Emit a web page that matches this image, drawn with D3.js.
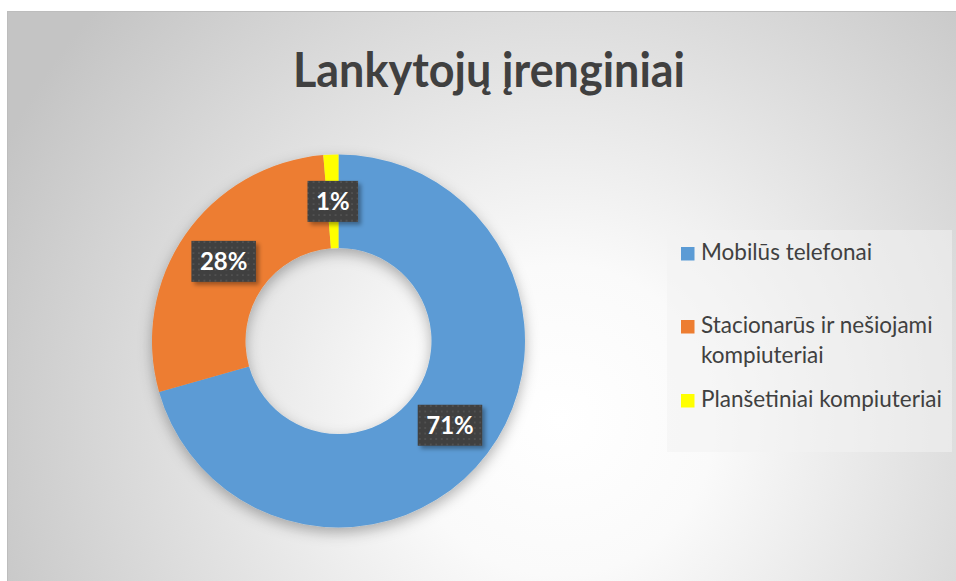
<!DOCTYPE html>
<html>
<head>
<meta charset="utf-8">
<script src="https://cdn.jsdelivr.net/npm/d3@7"></script>
<style>
  html, body { margin: 0; padding: 0; background: #fff; }
  svg { display: block; }
</style>
</head>
<body>
<div id="chart"></div>
<script>
'use strict';
// data
var categories = ['Mobilūs telefonai', 'Stacionarūs ir nešiojami kompiuteriai', 'Planšetiniai kompiuteriai'];
var legendLines = [['Mobilūs telefonai'], ['Stacionarūs ir nešiojami', 'kompiuteriai'], ['Planšetiniai kompiuteriai']];
var shares = [70.6, 28.1, 1.3];
var colors = ['#5B9BD5', '#ED7D31', '#FFFF00'];
var title = 'Lankytojų įrenginiai';

var width = 956, height = 581;
var cx = 338.5, cy = 341, outerR = 186.5, innerR = 93;

var svg = d3.select('#chart').append('svg')
    .attr('width', width)
    .attr('height', height);

var defs = svg.append('defs');

var bg = defs.append('radialGradient')
    .attr('id', 'bg')
    .attr('gradientUnits', 'userSpaceOnUse')
    .attr('cx', 560).attr('cy', 420).attr('r', 620);
bg.append('stop').attr('offset', '0%').attr('stop-color', '#ffffff');
bg.append('stop').attr('offset', '25%').attr('stop-color', '#fafafa');
bg.append('stop').attr('offset', '100%').attr('stop-color', '#c4c4c4');

var shadow = defs.append('filter').attr('id', 'ringShadow')
    .attr('x', '-20%').attr('y', '-20%').attr('width', '140%').attr('height', '140%');
shadow.append('feDropShadow')
    .attr('dx', 0).attr('dy', 5).attr('stdDeviation', 7)
    .attr('flood-color', '#000').attr('flood-opacity', 0.3);

var boxShadow = defs.append('filter').attr('id', 'boxShadow')
    .attr('x', '-20%').attr('y', '-20%').attr('width', '150%').attr('height', '150%');
boxShadow.append('feDropShadow')
    .attr('dx', 3).attr('dy', 3).attr('stdDeviation', 2)
    .attr('flood-color', '#000').attr('flood-opacity', 0.35);

var dots = defs.append('pattern').attr('id', 'dots')
    .attr('patternUnits', 'userSpaceOnUse')
    .attr('width', 5.5).attr('height', 5.5);
dots.append('rect').attr('width', 5.5).attr('height', 5.5).attr('fill', '#404040');
dots.append('circle').attr('cx', 2.75).attr('cy', 2.75).attr('r', 0.9).attr('fill', '#575757');

// chart area
svg.append('rect')
    .attr('x', 7.5).attr('y', 11.5)
    .attr('width', width).attr('height', height)
    .attr('fill', 'url(#bg)')
    .attr('stroke', '#bdbdbd');

svg.append('text')
    .attr('x', 489).attr('y', 86.5)
    .attr('text-anchor', 'middle')
    .attr('font-family', 'Lato, "Open Sans", sans-serif')
    .attr('font-weight', 700)
    .attr('font-size', 48)
    .attr('fill', '#404040')
    .attr('textLength', 392)
    .attr('lengthAdjust', 'spacingAndGlyphs')
    .text(title);

// donut
var pie = d3.pie().sort(null).value(function(d) { return d; });
var arc = d3.arc().innerRadius(innerR).outerRadius(outerR);
var arcs = pie(shares);

var g = svg.append('g').attr('transform', 'translate(' + cx + ',' + cy + ')');

g.append('g')
    .attr('filter', 'url(#ringShadow)')
  .selectAll('path')
  .data(arcs)
  .enter().append('path')
    .attr('d', arc)
    .attr('fill', function(d, i) { return colors[i]; });

var labels = g.selectAll('.lbl')
    .data(arcs)
  .enter().append('g')
    .attr('class', 'lbl')
    .attr('transform', function(d) { return 'translate(' + arc.centroid(d) + ')'; });

labels.each(function(d) {
  var lg = d3.select(this);
  var rect = lg.append('rect').attr('fill', 'url(#dots)').attr('filter', 'url(#boxShadow)');
  var t = lg.append('text')
      .attr('text-anchor', 'middle')
      .attr('y', 8.5)
      .attr('font-family', 'Lato, "Open Sans", sans-serif')
      .attr('font-weight', 700)
      .attr('font-size', 24)
      .attr('fill', '#ffffff')
      .text(Math.round(d.value) + '%');
  var w = t.node().getComputedTextLength() + 17;
  rect.attr('x', -w / 2).attr('y', -20.5).attr('width', w).attr('height', 41);
});

// legend
svg.append('rect')
    .attr('x', 667).attr('y', 230)
    .attr('width', 285).attr('height', 222)
    .attr('fill', '#f2f2f2').attr('fill-opacity', 0.55);

var legendTop = [247, 320, 394];
var legend = svg.selectAll('.leg')
    .data(categories)
  .enter().append('g')
    .attr('class', 'leg')
    .attr('transform', function(d, i) { return 'translate(681,' + legendTop[i] + ')'; });

legend.append('rect')
    .attr('width', 13.5).attr('height', 13.5)
    .attr('fill', function(d, i) { return colors[i]; });

legend.append('text')
    .attr('x', 20)
    .attr('y', 13)
    .attr('font-family', 'Lato, "Open Sans", sans-serif')
    .attr('font-size', 22.5)
    .attr('fill', '#404040')
  .selectAll('tspan')
  .data(function(d, i) { return legendLines[i]; })
  .enter().append('tspan')
    .attr('x', 20)
    .attr('dy', function(d, i) { return i === 0 ? 0 : 30; })
    .text(function(d) { return d; });
</script>
</body>
</html>
